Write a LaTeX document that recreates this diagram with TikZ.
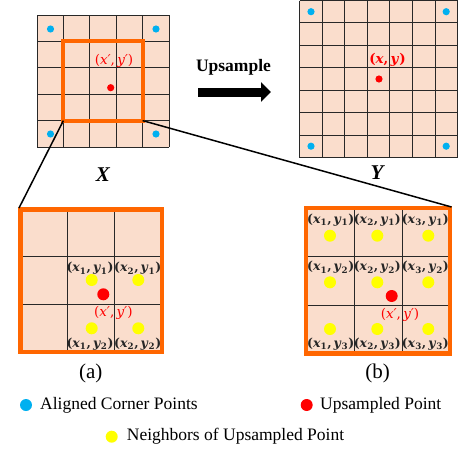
\documentclass[tikz,border=0pt]{standalone}
\usepackage{fontspec}
\setmainfont{Liberation Serif}
\newfontfamily\lblfont{DejaVu Serif}
\usetikzlibrary{arrows.meta}
\definecolor{cellfill}{RGB}{250,221,204}
\definecolor{boxorange}{RGB}{255,102,0}
\definecolor{dotblue}{RGB}{0,176,240}
\definecolor{dotred}{RGB}{255,0,0}
\definecolor{dotyellow}{RGB}{255,255,0}
\definecolor{gridc}{RGB}{40,40,40}
\newcommand{\cl}[2]{{\lblfont\bfseries(\textit{x}\textsubscript{#1},\,\textit{y}\textsubscript{#2})}}
\newcommand{\redp}{{\lblfont(\textit{x′},\,\textit{y′})}}
\begin{document}
\begin{tikzpicture}[x=1pt,y=-1pt,
  gridline/.style={draw=gridc, line width=0.9pt},
  obox/.style={draw=boxorange, line width=4.5pt},
  sbox/.style={draw=boxorange, line width=4pt},
  bdot/.style={fill=dotblue, draw=none},
  rdot/.style={fill=dotred, draw=none},
  ydot/.style={fill=dotyellow, draw=none},
  lbl/.style={inner sep=0pt, font=\fontsize{12.5}{14}\selectfont, text=black!85},
  rlbl/.style={inner sep=0pt, font=\fontsize{13.5}{15}\selectfont, text=dotred},
  leg/.style={inner sep=0pt, anchor=west, font=\fontsize{17.5}{20}\selectfont},
  zoomline/.style={draw=black, line width=1.5pt}]
\useasboundingbox (0,0) rectangle (459,453);
% ---------- X grid ----------
\fill[cellfill] (37,15) rectangle (169,147);
\foreach \i in {0,...,5} {
  \draw[gridline] ({37+\i*26.4},15) -- ({37+\i*26.4},147);
  \draw[gridline] (37,{15+\i*26.4}) -- (169,{15+\i*26.4});
}
\draw[sbox] (63.4,41.4) rectangle (142.6,120.6);
\coordinate (xbl) at (63.4,120.6);
\coordinate (xbr) at (142.6,120.6);
\fill[bdot] (50.5,29) circle (3.6);
\fill[bdot] (156,29) circle (3.6);
\fill[bdot] (50.5,134) circle (3.6);
\fill[bdot] (156,134) circle (3.6);
\fill[rdot] (110.7,87.7) circle (3.6);
\node[rlbl] (xlab) at (114,61) {\redp};
\node[inner sep=0pt, font=\fontsize{21}{24}\selectfont\bfseries\itshape] (Xname) at (103,175) {X};
% ---------- Y grid ----------
\fill[cellfill] (299.5,0.5) rectangle (457.7,157.6);
\foreach \i in {0,...,7} {
  \draw[gridline] ({299.5+\i*22.6},0.5) -- ({299.5+\i*22.6},157.6);
  \draw[gridline] (299.5,{0.5+\i*22.44}) -- (457.7,{0.5+\i*22.44});
}
\fill[bdot] (311,11.7) circle (3.6);
\fill[bdot] (446.2,11.7) circle (3.6);
\fill[bdot] (311,146.2) circle (3.6);
\fill[bdot] (446.2,146.2) circle (3.6);
\fill[rdot] (379,79) circle (3.6);
\node[rlbl] (ylab) at (387.5,60) {{\lblfont\bfseries(\textit{x},\,\textit{y})}};
\node[inner sep=0pt, font=\fontsize{21}{24}\selectfont\bfseries\itshape] (Yname) at (377,173) {Y};
% ---------- Upsample arrow ----------
\node[inner sep=0pt, font=\fontsize{17.5}{20}\selectfont\bfseries] (ups) at (233.5,67) {Upsample};
\coordinate (arrs) at (198,92);
\coordinate (arre) at (271,92);
\draw[line width=9pt, -{Triangle[length=10pt,width=19pt]}] (arrs) -- (arre);
% ---------- box (a) ----------
\fill[cellfill] (20.5,209.5) rectangle (161.8,351.8);
\foreach \i in {1,2} {
  \draw[gridline] ({20.5+\i*47.1},209.5) -- ({20.5+\i*47.1},351.8);
  \draw[gridline] (20.5,{209.5+\i*47.4}) -- (161.8,{209.5+\i*47.4});
}
\draw[obox] (20.5,209.5) rectangle (161.8,351.8);
\coordinate (atl) at (19,208);
\fill[ydot] (91.7,280) circle (6);
\fill[ydot] (138.3,280) circle (6);
\fill[ydot] (91.7,328.3) circle (6);
\fill[ydot] (138.3,328.3) circle (6);
\fill[rdot] (103.3,294.3) circle (6);
\node[lbl] (a11) at (90,268.3) {\cl{1}{1}};
\node[lbl] (a21) at (137.7,268.3) {\cl{2}{1}};
\node[lbl] (a12) at (90,344) {\cl{1}{2}};
\node[lbl] (a22) at (137.7,344) {\cl{2}{2}};
\node[rlbl] (ared) at (113.3,313.3) {\redp};
% ---------- box (b) ----------
\fill[cellfill] (306.2,208.2) rectangle (450,353.5);
\foreach \i in {1,2} {
  \draw[gridline] ({306.2+\i*47.93},208.2) -- ({306.2+\i*47.93},353.5);
  \draw[gridline] (306.2,{208.2+\i*48.43}) -- (450,{208.2+\i*48.43});
}
\draw[obox] (306.2,208.2) rectangle (450,353.5);
\coordinate (btr) at (451.5,207);
\foreach \x in {330,377.3,428.3} {
  \foreach \y in {235.7,282.3,329} {
    \fill[ydot] (\x,\y) circle (6);
  }
}
\fill[rdot] (391.7,296) circle (6);
\node[lbl] (b11) at (330.7,220) {\cl{1}{1}};
\node[lbl] (b21) at (377.3,220) {\cl{2}{1}};
\node[lbl] (b31) at (425.3,220) {\cl{3}{1}};
\node[lbl] (b12) at (330.7,267.3) {\cl{1}{2}};
\node[lbl] (b22) at (377.3,267.3) {\cl{2}{2}};
\node[lbl] (b32) at (425.3,267.3) {\cl{3}{2}};
\node[lbl] (b13) at (330.7,344) {\cl{1}{3}};
\node[lbl] (b23) at (377.3,344) {\cl{2}{3}};
\node[lbl] (b33) at (425.3,344) {\cl{3}{3}};
\node[rlbl] (bred) at (400,315) {\redp};
% ---------- zoom lines ----------
\draw[zoomline] (xbl) -- (atl);
\draw[zoomline] (xbr) -- (btr);
% ---------- captions ----------
\node[inner sep=0pt, font=\fontsize{21}{24}\selectfont] (capa) at (90.7,373) {(a)};
\node[inner sep=0pt, font=\fontsize{21}{24}\selectfont] (capb) at (377.7,373) {(b)};
% ---------- legend ----------
\fill[bdot] (26,405) circle (6);
\node[leg] (l1) at (40,405) {Aligned Corner Points};
\fill[rdot] (306.7,405) circle (6);
\node[leg] (l2) at (320,405) {Upsampled Point};
\fill[ydot] (111.7,436.7) circle (6);
\node[leg] (l3) at (126.7,436.7) {Neighbors of Upsampled Point};
\end{tikzpicture}
\end{document}
